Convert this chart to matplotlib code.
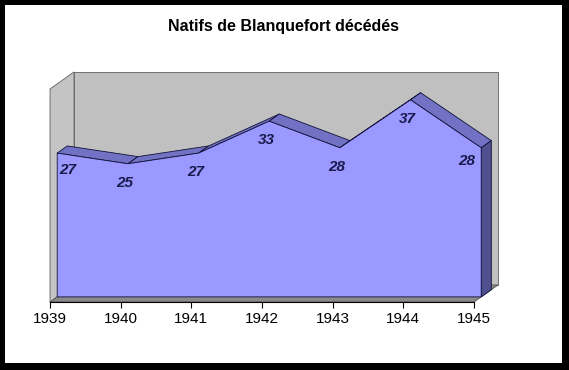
import matplotlib
matplotlib.use("Agg")
import matplotlib.pyplot as plt
from matplotlib.patches import Polygon, Rectangle

# data
years = [1939, 1940, 1941, 1942, 1943, 1944, 1945]
deaths = [27, 25, 27, 33, 28, 37, 28]
title = "Natifs de Blanquefort décédés"
y_max = 40

# oblique 3D look: depth vector in data units
DX, DY = 0.34, 3.2
D_FRONT, D_BACK = 0.3, 0.72


def proj(x, y, d):
    return (x + d * DX, y + d * DY)


def poly(ax, pts, fc, ec="black", lw=0.6, z=1):
    ax.add_patch(Polygon(pts, closed=True, facecolor=fc, edgecolor=ec,
                         linewidth=lw, zorder=z, joinstyle="round"))


W, H = 569, 370
fig = plt.figure(figsize=(W / 100, H / 100), dpi=100, facecolor="black")
fig.add_artist(Rectangle((5 / W, 7 / H), (562 - 5) / W, (363 - 5) / H,
                         transform=fig.transFigure, facecolor="white",
                         edgecolor="none", zorder=-1))

# axes placed so that the front plane sits where it does in the original
left_px, right_px, top_px, bot_px = 40, 510, 60, 310
ax = fig.add_axes([left_px / W, (H - bot_px) / H,
                   (right_px - left_px) / W, (bot_px - top_px) / H])
ax.set_facecolor("none")
px_year = 70.67
px_val = 5.325
ax.set_xlim(1939 + (left_px - 50) / px_year, 1939 + (right_px - 50) / px_year)
ax.set_ylim((302 - bot_px) / px_val, (302 - top_px) / px_val)

x0, x1 = years[0], years[-1]

# walls and floor
poly(ax, [proj(x0, 0, 1), proj(x1, 0, 1), proj(x1, y_max, 1), proj(x0, y_max, 1)],
     "#c0c0c0", ec="#606060", z=1)
poly(ax, [proj(x0, 0, 0), proj(x0, 0, 1), proj(x0, y_max, 1), proj(x0, y_max, 0)],
     "#c4c4c4", ec="#606060", z=1)
poly(ax, [proj(x0, 0, 0), proj(x1, 0, 0), proj(x1, 0, 1), proj(x0, 0, 1)],
     "#8a8a8a", ec="#505050", z=1)

# top strips of the area slab
for i in range(len(years) - 1):
    xa, xb = years[i], years[i + 1]
    ya, yb = deaths[i], deaths[i + 1]
    poly(ax, [proj(xa, ya, D_FRONT), proj(xb, yb, D_FRONT),
              proj(xb, yb, D_BACK), proj(xa, ya, D_BACK)],
         "#7272c4", ec="#10103a", z=2)

# right side of the slab
poly(ax, [proj(x1, 0, D_FRONT), proj(x1, deaths[-1], D_FRONT),
          proj(x1, deaths[-1], D_BACK), proj(x1, 0, D_BACK)],
     "#50508e", ec="#10103a", z=2)

# front face
front = [proj(x, y, D_FRONT) for x, y in zip(years, deaths)]
front += [proj(x1, 0, D_FRONT), proj(x0, 0, D_FRONT)]
poly(ax, front, "#9999ff", ec="#10103a", z=3)

# data labels
for i, (x, y) in enumerate(zip(years, deaths)):
    if i == 0:
        off, ha = (2, -17), "left"
    elif i == len(years) - 1:
        off, ha = (-6, -13), "right"
    else:
        off, ha = (-3, -19), "center"
    ax.annotate(str(y), proj(x, y, D_FRONT), xytext=off,
                textcoords="offset pixels", ha=ha, va="center",
                fontsize=11, fontweight="bold", fontstyle="italic",
                family="Liberation Sans", color="#1a1a4e", zorder=4)

# category axis along the front floor edge
for s in ["top", "right", "left"]:
    ax.spines[s].set_visible(False)
ax.spines["bottom"].set_position(("data", 0))
ax.spines["bottom"].set_bounds(x0, x1)
ax.spines["bottom"].set_linewidth(0.8)
ax.spines["bottom"].set_zorder(5)
ax.set_xticks(years)
ax.set_xticklabels([str(y) for y in years], fontsize=11, family="Liberation Sans")
ax.tick_params(axis="x", direction="out", length=4, width=0.8, pad=3)
ax.set_yticks([])

fig.text(0.499, 1 - 27 / H, title, ha="center", va="center", fontsize=11.5,
         fontweight="bold", family="Liberation Sans")

fig.savefig("out.png", dpi=100, facecolor="black")
